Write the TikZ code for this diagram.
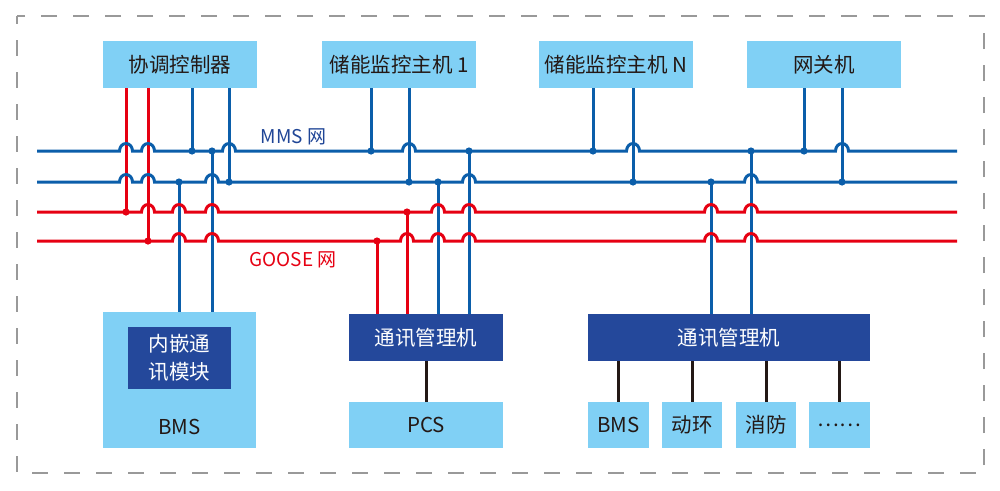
\documentclass[tikz,border=0pt]{standalone}
\usepackage{fontspec}
\setmainfont{Noto Sans CJK SC}
\definecolor{lb}{HTML}{80D0F5}
\definecolor{db}{HTML}{24489B}
\definecolor{lnb}{HTML}{0B5EAA}
\definecolor{lnr}{HTML}{E60012}
\definecolor{blk}{HTML}{231815}
\definecolor{mms}{HTML}{1F4596}
\newcommand\hopbus[4]{%
  \draw[#1] (37,#3) coordinate (#2w) foreach \hx in {#4}{ -- ({\hx-6.5},#3) arc[start angle=180,end angle=0,x radius=6.5pt,y radius=7.5pt]} -- (957,#3) coordinate (#2e);}
\begin{document}
\begin{tikzpicture}[x=1pt,y=-1pt,
  lbox/.style={fill=lb,draw=none,inner sep=0pt,minimum height=47pt,text=blk,font=\fontsize{20.5}{24}\selectfont},
  dbox/.style={fill=db,draw=none,inner sep=0pt,minimum height=47pt,text=white,font=\fontsize{20.5}{24}\selectfont},
  bl/.style={draw=lnb,line width=3pt},
  rd/.style={draw=lnr,line width=3pt},
  bk/.style={draw=blk,line width=3pt},
  bdot/.style={fill=lnb},
  rdot/.style={fill=lnr},
  lbl/.style={font=\fontsize{19}{22}\selectfont,inner sep=0pt}]
\useasboundingbox (0,0) rectangle (1000,490);
\draw[black!40,line width=1.3pt,dash pattern=on 16pt off 16pt,dash phase=8pt] (17,16) rectangle (984,473);
% top boxes
\node[lbox,minimum width=154pt] (ctrl) at (180,64.5) {协调控制器};
\node[lbox,minimum width=154pt] (host1) at (399,64.5) {储能监控主机 1};
\node[lbox,minimum width=154pt] (hostN) at (616,64.5) {储能监控主机 N};
\node[lbox,minimum width=154pt] (gw) at (824,64.5) {网关机};
% bottom boxes
\node[lbox,minimum width=153pt,minimum height=136pt] (bms) at (179.5,380) {};
\node[dbox,minimum width=103pt,minimum height=62pt,align=center,font=\fontsize{20.5}{28.5}\selectfont] (emb) at (179.5,358) {内嵌通\\讯模块};
\node[lbl,text=blk,font=\fontsize{20.5}{24}\selectfont] (bmstxt) at (179.5,427) {BMS};
\node[dbox,minimum width=154pt] (comm1) at (426,337.5) {通讯管理机};
\node[lbox,minimum width=154pt,minimum height=46pt] (pcs) at (426,425) {PCS};
\node[dbox,minimum width=282pt] (comm2) at (729,337.5) {通讯管理机};
\node[lbox,minimum width=61pt,minimum height=46pt] (sbms) at (618.5,425) {BMS};
\node[lbox,minimum width=60pt,minimum height=46pt] (dh) at (692,425) {动环};
\node[lbox,minimum width=60pt,minimum height=46pt] (xf) at (766,425) {消防};
\node[lbox,minimum width=61pt,minimum height=46pt] (etc) at (839.5,425) {……};
% labels
\node[lbl,text=mms] (mmslbl) at (293.5,136.5) {MMS 网};
\node[lbl,text=lnr] (gooselbl) at (293,260) {GOOSE 网};
% bus coordinates
\coordinate (B1) at (37,151);
\coordinate (B2) at (37,182);
\coordinate (R1) at (37,212);
\coordinate (R2) at (37,241);
% verticals from top boxes
\draw[rd] (ctrl.south -| 126,0) -- (126,0 |- R1);
\draw[rd] (ctrl.south -| 148,0) -- (148,0 |- R2);
\draw[bl] (ctrl.south -| 192,0) -- (192,0 |- B1);
\draw[bl] (ctrl.south -| 229,0) -- (229,0 |- B2);
\draw[bl] (host1.south -| 371,0) -- (371,0 |- B1);
\draw[bl] (host1.south -| 409,0) -- (409,0 |- B2);
\draw[bl] (hostN.south -| 593,0) -- (593,0 |- B1);
\draw[bl] (hostN.south -| 633,0) -- (633,0 |- B2);
\draw[bl] (gw.south -| 804,0) -- (804,0 |- B1);
\draw[bl] (gw.south -| 842,0) -- (842,0 |- B2);
% verticals from bottom boxes
\draw[bl] (bms.north -| 179,0) -- (179,0 |- B2);
\draw[bl] (bms.north -| 212,0) -- (212,0 |- B1);
\draw[rd] (comm1.north -| 377,0) -- (377,0 |- R2);
\draw[rd] (comm1.north -| 407,0) -- (407,0 |- R1);
\draw[bl] (comm1.north -| 438,0) -- (438,0 |- B2);
\draw[bl] (comm1.north -| 469,0) -- (469,0 |- B1);
\draw[bl] (comm2.north -| 711,0) -- (711,0 |- B2);
\draw[bl] (comm2.north -| 751,0) -- (751,0 |- B1);
% buses
\hopbus{bl}{b1}{151}{126,148,229,409,633,842}
\hopbus{bl}{b2}{182}{126,148,212,469,751}
\hopbus{rd}{r1}{212}{148,179,212,438,469,711,751}
\hopbus{rd}{r2}{241}{179,212,407,438,469,711,751}
% junction dots
\foreach \px in {192,212,371,469,593,751,804} \fill[bdot] (\px,151) circle (3.6pt);
\foreach \px in {179,229,409,438,633,711,842} \fill[bdot] (\px,182) circle (3.6pt);
\foreach \px in {126,407} \fill[rdot] (\px,212) circle (3.6pt);
\foreach \px in {148,377} \fill[rdot] (\px,241) circle (3.6pt);
% black connectors
\draw[bk] (comm1.south) -- (pcs.north);
\draw[bk] (sbms.north |- comm2.south) -- (sbms.north);
\draw[bk] (dh.north |- comm2.south) -- (dh.north);
\draw[bk] (xf.north |- comm2.south) -- (xf.north);
\draw[bk] (etc.north |- comm2.south) -- (etc.north);
\end{tikzpicture}
\end{document}
